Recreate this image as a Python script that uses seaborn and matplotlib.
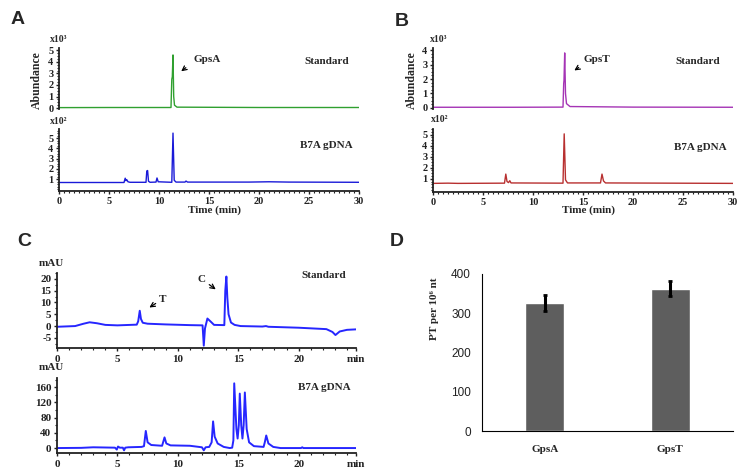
import numpy as np
import pandas as pd
import matplotlib
matplotlib.use("Agg")
import matplotlib.pyplot as plt
from matplotlib.ticker import MultipleLocator
import seaborn as sns

# ---- data ----
# A: GpsA standard (x10^3) and B7A gDNA (x10^2)
a_std_t = [0, 5, 11.2, 11.28, 11.33, 11.4, 11.47, 11.55, 11.8, 20, 30]
a_std_v = [0.04, 0.05, 0.05, 2.5, 2.7, 4.6, 1.0, 0.25, 0.08, 0.05, 0.05]
a_dna_t = [0, 6.5, 6.62, 6.7, 6.78, 6.9, 7.1, 8.7, 8.78, 8.86, 8.95, 9.1, 9.7, 9.8, 9.92,
           11.28, 11.4, 11.52, 11.7, 12.6, 12.7, 12.85, 19, 21, 23, 30]
a_dna_v = [0.68, 0.68, 1.1, 0.85, 0.95, 0.75, 0.7, 0.7, 1.8, 1.85, 0.8, 0.7, 0.72, 1.12, 0.75,
           0.7, 5.5, 0.9, 0.72, 0.72, 0.82, 0.72, 0.72, 0.75, 0.72, 0.7]

# B: GpsT standard (x10^3) and B7A gDNA (x10^2)
b_std_t = [0, 8, 13.0, 13.07, 13.1, 13.17, 13.25, 13.35, 13.7, 20, 30]
b_std_v = [0.05, 0.05, 0.06, 1.7, 1.9, 3.8, 1.0, 0.3, 0.1, 0.06, 0.05]
b_dna_t = [0, 1.5, 2.5, 7.15, 7.28, 7.4, 7.55, 7.68, 7.8, 13.0, 13.12, 13.25, 13.45,
           16.75, 16.9, 17.05, 17.25, 30]
b_dna_v = [0.58, 0.6, 0.58, 0.6, 1.42, 0.75, 0.65, 0.82, 0.62, 0.6, 5.06, 0.9, 0.62,
           0.62, 1.42, 0.8, 0.62, 0.58]

# C: HPLC, standard and B7A gDNA (mAU)
c_std_t = [0, 1.5, 2.2, 2.7, 3.3, 4.0, 5.0, 6.6, 6.72, 6.85, 6.95, 7.1, 7.5, 9.0, 11.0,
           12.05, 12.15, 12.25, 12.45, 12.7, 13.0, 13.85, 13.93, 14.02, 14.1, 14.2, 14.4,
           14.7, 15.2, 17.0, 17.3, 17.5, 20.0, 22.3, 22.8, 23.05, 23.4, 24.0, 24.75]
c_std_v = [-0.3, 0.0, 1.0, 1.6, 1.2, 0.5, 0.3, 0.6, 2.0, 6.5, 3.0, 1.4, 1.0, 0.7, 0.4,
           0.3, -8.3, -1.0, 3.2, 2.0, 0.5, 0.4, 15.0, 21.0, 12.0, 5.0, 1.5,
           0.5, 0.0, -0.2, 0.0, -0.3, -0.7, -1.3, -2.5, -3.8, -2.3, -1.6, -1.4]
c_dna_t = [0, 2.0, 3.0, 4.8, 4.95, 5.05, 5.2, 5.45, 5.55, 5.65, 5.9, 7.0, 7.2, 7.35, 7.5,
           7.8, 8.7, 8.9, 9.05, 9.4, 11.0, 12.0, 12.15, 12.3, 12.6, 12.8, 12.92, 13.05,
           13.3, 13.8, 14.3, 14.5, 14.6, 14.67, 14.85, 14.95, 15.05, 15.13, 15.25, 15.35,
           15.45, 15.55, 15.7, 15.9, 16.3, 17.1, 17.2, 17.32, 17.5, 17.9, 18.5, 20.2,
           20.3, 20.4, 24.75]
c_dna_v = [0, 0.5, 2, 1, -4, 4, 1, 1, -6, 1, 2, 3, 5, 45, 15,
           8, 6, 28, 12, 7, 6, 2, -6, 2, 3, 15, 70, 30,
           12, 3, 0, 1, 20, 170, 50, 25, 60, 143, 60, 25,
           60, 146, 50, 15, 5, 3, 15, 33, 12, 3, 0, 0,
           2, 0, 0]

# D: PT per 10^6 nt
d_cats = ["GpsA", "GpsT"]
d_vals = [326, 363]
d_errs = [20, 20]

# ---- style ----
sns.set_style("ticks")
plt.rcParams['font.family'] = ['Liberation Serif', 'DejaVu Serif']
plt.rcParams['font.weight'] = 'bold'
plt.rcParams['axes.labelweight'] = 'bold'
plt.rcParams['axes.unicode_minus'] = False

W, H = 752, 475
fig = plt.figure(figsize=(W / 100, H / 100), dpi=100)


def box(l, t, r, b):
    return fig.add_axes([l / W, 1 - b / H, (r - l) / W, (b - t) / H])


def txt(px, py, s, **kw):
    fig.text(px / W, 1 - py / H, s, ha=kw.pop('ha', 'center'), va=kw.pop('va', 'center'), **kw)


def arrow(x0, y0, x1, y1):
    fig.add_artist(matplotlib.patches.FancyArrowPatch(
        (x0 / W, 1 - y0 / H), (x1 / W, 1 - y1 / H), transform=fig.transFigure,
        arrowstyle='->', mutation_scale=8, lw=0.9, color='black'))


def chrom_style(ax, fs=7.5, xminor=0.5, yminor=0.25, bottom=True):
    sns.despine(ax=ax, bottom=not bottom)
    for s in ['left', 'bottom']:
        ax.spines[s].set_linewidth(1.3)
        ax.spines[s].set_color('#222222')
    ax.tick_params(which='major', length=2.5, width=1, pad=1.5, labelsize=fs, colors='#222222')
    ax.tick_params(which='minor', length=1.5, width=0.8, colors='#222222')
    ax.xaxis.set_minor_locator(MultipleLocator(xminor))
    ax.yaxis.set_minor_locator(MultipleLocator(yminor))
    if not bottom:
        ax.tick_params(axis='x', which='both', bottom=False, labelbottom=False)
    ax.set_xlabel('')
    ax.set_ylabel('')


def trace(ax, t, v, color, lw=1.0):
    df = pd.DataFrame({'t': t, 'v': v})
    sns.lineplot(data=df, x='t', y='v', ax=ax, color=color, linewidth=lw, estimator=None)


# ---- Panel A ----
axA1 = box(59, 48, 359, 109)
trace(axA1, a_std_t, a_std_v, '#30a030')
axA1.set_xlim(0, 30)
axA1.set_ylim(-0.08, 5.2)
axA1.set_yticks([0, 1, 2, 3, 4, 5])
chrom_style(axA1, bottom=False)

axA2 = box(59, 129, 359, 191)
trace(axA2, a_dna_t, a_dna_v, '#1a1ad8')
axA2.set_xlim(0, 30)
axA2.set_ylim(-0.15, 5.9)
axA2.set_yticks([1, 2, 3, 4, 5])
axA2.set_xticks([0, 5, 10, 15, 20, 25, 30])
chrom_style(axA2)

# ---- Panel B ----
axB1 = box(433, 48, 733, 109)
trace(axB1, b_std_t, b_std_v, '#a534b5')
axB1.set_xlim(0, 30)
axB1.set_ylim(-0.07, 4.14)
axB1.set_yticks([0, 1, 2, 3, 4])
chrom_style(axB1, bottom=False)

axB2 = box(433, 129, 733, 192)
trace(axB2, b_dna_t, b_dna_v, '#b83030')
axB2.set_xlim(0, 30)
axB2.set_ylim(-0.2, 5.5)
axB2.set_yticks([1, 2, 3, 4, 5])
axB2.set_xticks([0, 5, 10, 15, 20, 25, 30])
chrom_style(axB2)

# ---- Panel C ----
cx_ticks = [0, 5, 10, 15, 20, 24.75]
cx_labels = ['0', '5', '10', '15', '20', 'min']
axC1 = box(57, 273, 356, 348)
trace(axC1, c_std_t, c_std_v, '#2626ff', lw=1.4)
axC1.set_xlim(0, 24.75)
axC1.set_ylim(-9.3, 22.5)
axC1.set_yticks([-5, 0, 5, 10, 15, 20])
axC1.set_xticks(cx_ticks, cx_labels)
chrom_style(axC1, fs=8, xminor=1, yminor=2.5)
axC1.tick_params(axis='x', pad=2.5)

axC2 = box(57, 378, 356, 453)
trace(axC2, c_dna_t, c_dna_v, '#2626ff', lw=1.4)
axC2.set_xlim(0, 24.75)
axC2.set_ylim(-13, 184)
axC2.set_yticks([0, 40, 80, 120, 160])
axC2.set_xticks(cx_ticks, cx_labels)
chrom_style(axC2, fs=8, xminor=1, yminor=20)
axC2.tick_params(axis='x', pad=2.5)

# ---- Panel D ----
axD = box(482, 274, 733, 431)
sns.barplot(x=d_cats, y=d_vals, ax=axD, color='#5e5e5e', width=0.31,
            errorbar=None, saturation=1)
axD.errorbar(axD.get_xticks(), d_vals, yerr=d_errs, fmt='none', ecolor='black',
             elinewidth=2.2, capsize=1.5, capthick=2)
axD.set_xlim(-0.5, 1.5)
axD.set_ylim(0, 400)
axD.set_yticks([0, 100, 200, 300, 400])
sns.despine(ax=axD)
axD.spines['left'].set_color('black')
axD.spines['bottom'].set_color('black')
axD.tick_params(length=0)
axD.tick_params(axis='x', pad=10, labelsize=8)
axD.tick_params(axis='y', pad=8, labelsize=8.5)
for lab in axD.get_yticklabels():
    lab.set_family(['Liberation Sans', 'DejaVu Sans'])
    lab.set_weight('normal')
    lab.set_color('#222222')
axD.set_ylabel('PT per 10\u2076 nt', fontsize=8)
axD.yaxis.set_label_coords(-0.17, 0.78)

# ---- texts ----
sans = ['Liberation Sans', 'DejaVu Sans']
for lt, x, y in [('A', 18, 20), ('B', 402, 21), ('C', 24, 242), ('D', 397, 242)]:
    txt(x, y, lt, fontsize=14, family=sans, weight='bold')

txt(37, 80, 'Abundance', fontsize=8.5, rotation=90)
txt(412, 80, 'Abundance', fontsize=8.5, rotation=90)
txt(59, 39, 'x10\u00b3', fontsize=7)
txt(59, 122, 'x10\u00b2', fontsize=7)
txt(439, 39, 'x10\u00b3', fontsize=7)
txt(440, 119, 'x10\u00b2', fontsize=7)
txt(214, 210, 'Time (min)', fontsize=8)
txt(589, 210, 'Time (min)', fontsize=8)

txt(327, 62, 'Standard', fontsize=8)
txt(326, 145, 'B7A gDNA', fontsize=8)
txt(698, 62, 'Standard', fontsize=8)
txt(700, 148, 'B7A gDNA', fontsize=8)
txt(194, 60, 'GpsA', fontsize=8, ha='left')
arrow(188, 66, 179, 73)
txt(584, 60, 'GpsT', fontsize=8, ha='left')
arrow(581, 66, 572, 72)

txt(51, 264, 'mAU', fontsize=8)
txt(51, 368, 'mAU', fontsize=8)
txt(324, 276, 'Standard', fontsize=8)
txt(324, 387, 'B7A gDNA', fontsize=8)
txt(163, 299, 'T', fontsize=8)
arrow(158, 302, 147, 309)
txt(202, 280, 'C', fontsize=8)
arrow(207, 283, 218, 291)

fig.savefig('out.png', dpi=100)
